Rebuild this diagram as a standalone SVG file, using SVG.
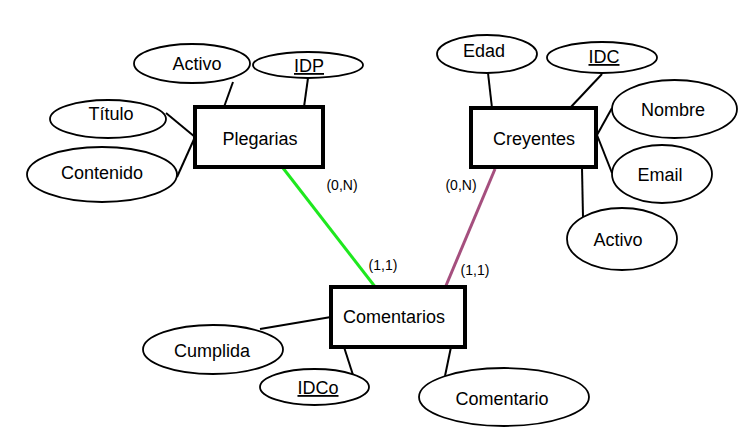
<svg xmlns="http://www.w3.org/2000/svg" width="756" height="445" viewBox="0 0 756 445">
<style>
.ent{fill:#fff;stroke:#000;stroke-width:4}
.att{fill:#fff;stroke:#000;stroke-width:1.8}
.ln{stroke:#000;stroke-width:2;fill:none}
text{font-family:"Liberation Sans",Arial,sans-serif;fill:#000;text-anchor:middle}
.t{font-size:18px}
.s{font-size:14px}
.u{text-decoration:underline}
</style>
<rect width="756" height="445" fill="#fff"/>
<g id="connectors">
<line class="ln" x1="233" y1="82" x2="224" y2="107"/>
<line class="ln" x1="308" y1="78" x2="304" y2="107"/>
<line class="ln" x1="166" y1="113" x2="195" y2="137"/>
<line class="ln" x1="177" y1="177" x2="195" y2="137"/>
<line class="ln" x1="488" y1="73" x2="492" y2="108"/>
<line class="ln" x1="602" y1="74" x2="570" y2="108"/>
<line class="ln" x1="612" y1="108" x2="597" y2="135"/>
<line class="ln" x1="597" y1="135" x2="612" y2="173"/>
<line class="ln" x1="582" y1="168" x2="583" y2="217"/>
<line class="ln" x1="260" y1="329" x2="331" y2="317"/>
<line class="ln" x1="344" y1="347" x2="353" y2="375"/>
<line class="ln" x1="451" y1="347" x2="445" y2="376"/>
<line x1="283" y1="168" x2="376" y2="288" stroke="#1ee81e" stroke-width="3"/>
<line x1="495" y1="169" x2="445" y2="288" stroke="#a54f7e" stroke-width="3"/>
<text class="s" x="342" y="190">(0,N)</text>
<text class="s" x="461" y="190">(0,N)</text>
<text class="s" x="383" y="270">(1,1)</text>
<text class="s" x="475" y="275">(1,1)</text>
</g>
<g id="plegarias"><rect class="ent" x="195" y="107" width="128" height="60"/><text class="t" x="260" y="145">Plegarias</text></g>
<g id="creyentes"><rect class="ent" x="471" y="108" width="125" height="59"/><text class="t" x="534" y="145">Creyentes</text></g>
<g id="comentarios"><rect class="ent" x="331" y="287" width="134" height="60"/><text class="t" x="394" y="323">Comentarios</text></g>
<g id="p-activo"><ellipse class="att" cx="192" cy="63.5" rx="58" ry="19.5"/><text class="t" x="197" y="70">Activo</text></g>
<g id="p-idp"><ellipse class="att" cx="308" cy="65" rx="55" ry="13"/><text class="t u" x="309" y="72">IDP</text></g>
<g id="p-titulo"><ellipse class="att" cx="108" cy="119" rx="58" ry="19"/><text class="t" x="111" y="120">Título</text></g>
<g id="p-contenido"><ellipse class="att" cx="102" cy="174.5" rx="75" ry="27.5"/><text class="t" x="102" y="179">Contenido</text></g>
<g id="c-edad"><ellipse class="att" cx="487" cy="54" rx="50" ry="19"/><text class="t" x="484" y="57">Edad</text></g>
<g id="c-idc"><ellipse class="att" cx="602" cy="57.5" rx="55" ry="15.5"/><text class="t u" x="604" y="63">IDC</text></g>
<g id="c-nombre"><ellipse class="att" cx="674.5" cy="109" rx="62.5" ry="29"/><text class="t" x="673" y="116">Nombre</text></g>
<g id="c-email"><ellipse class="att" cx="662" cy="174" rx="50" ry="29"/><text class="t" x="660" y="181">Email</text></g>
<g id="c-activo"><ellipse class="att" cx="622" cy="239" rx="55" ry="31"/><text class="t" x="618" y="246">Activo</text></g>
<g id="m-cumplida"><ellipse class="att" cx="213" cy="349.5" rx="70" ry="24.5"/><text class="t" x="212" y="357">Cumplida</text></g>
<g id="m-idco"><ellipse class="att" cx="314.5" cy="387" rx="54.5" ry="18"/><text class="t u" x="318" y="394">IDCo</text></g>
<g id="m-comentario"><ellipse class="att" cx="504" cy="397" rx="85" ry="29"/><text class="t" x="502" y="405">Comentario</text></g>
</svg>
